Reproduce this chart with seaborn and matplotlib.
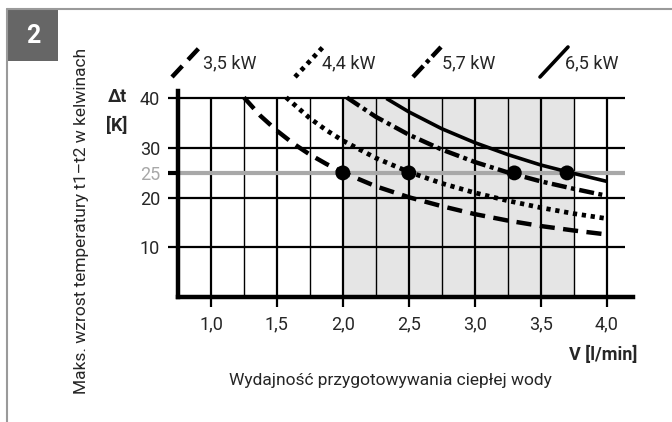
import matplotlib
matplotlib.use("Agg")
import matplotlib.pyplot as plt
from matplotlib.lines import Line2D
from matplotlib.patches import Rectangle
import seaborn as sns
import pandas as pd

sns.set_theme(style="white")
plt.rcParams['font.family'] = ['Roboto', 'DejaVu Sans']

# ---- data ----
v_35 = [1.25, 1.375, 1.5, 1.625, 1.75, 1.875, 2.0, 2.25, 2.5, 2.75, 3.0, 3.25, 3.5, 3.75, 4.0]
t_35 = [40.2, 36.5, 33.5, 30.9, 28.7, 26.8, 25.1, 22.3, 20.1, 18.3, 16.7, 15.4, 14.3, 13.4, 12.6]
v_44 = [1.57, 1.75, 1.875, 2.0, 2.25, 2.5, 2.75, 3.0, 3.25, 3.5, 3.75, 4.0]
t_44 = [40.2, 36.0, 33.6, 31.5, 28.0, 25.2, 22.9, 21.0, 19.4, 18.0, 16.8, 15.8]
v_57 = [2.03, 2.25, 2.5, 2.75, 3.0, 3.25, 3.5, 3.75, 4.0]
t_57 = [40.2, 36.3, 32.7, 29.7, 27.2, 25.1, 23.3, 21.8, 20.4]
v_65 = [2.33, 2.5, 2.75, 3.0, 3.25, 3.5, 3.75, 4.0]
t_65 = [40.0, 37.3, 33.9, 31.1, 28.7, 26.6, 24.9, 23.3]
series_labels = ["3,5 kW", "4,4 kW", "5,7 kW", "6,5 kW"]
dot_v = [2.0, 2.5, 3.3, 3.7]
dot_t = [25, 25, 25, 25]
x_ticks = [1.0, 1.5, 2.0, 2.5, 3.0, 3.5, 4.0]
x_ticklabels = ["1,0", "1,5", "2,0", "2,5", "3,0", "3,5", "4,0"]
y_ticks = [10, 20, 25, 30, 40]
y_ticklabels = ["10", "20", "25", "30", "40"]
shade_range = [2.0, 3.75]
ref_level = 25

W, H = 672, 422
fig = plt.figure(figsize=(W / 100, H / 100), dpi=100)
fig.patch.set_facecolor("white")

def fx(px):
    return px / W

def fy(py):
    return 1 - py / H

ax_l, ax_r, ax_t, ax_b = 178, 633, 91, 297
ax = fig.add_axes([fx(ax_l), fy(ax_b), (ax_r - ax_l) / W, (ax_b - ax_t) / H])
ax.set_facecolor("none")
ax.set_xlim(0.75, 4.2)
ax.set_ylim(0, 41.5)

# shaded region
ax.add_patch(Rectangle((shade_range[0], 0), shade_range[1] - shade_range[0], 40,
                       facecolor="#e5e5e5", edgecolor="none", zorder=0))

# grid
minor = [1.25, 1.75, 2.25, 2.75, 3.25, 3.75]
ax.vlines(x_ticks, 0, 40, color="black", lw=1.6, zorder=1)
ax.vlines(minor, 0, 40, color="black", lw=1.0, zorder=1)
ax.hlines([10, 20, 30, 40], 0.75, 4.14, color="black", lw=1.6, zorder=1)
ax.hlines([ref_level], 0.75, 4.14, color="#a8a8a8", lw=3.0, zorder=1.5)

# curves
df = pd.concat([
    pd.DataFrame({"V": v_35, "dt": t_35, "s": series_labels[0]}),
    pd.DataFrame({"V": v_44, "dt": t_44, "s": series_labels[1]}),
    pd.DataFrame({"V": v_57, "dt": t_57, "s": series_labels[2]}),
    pd.DataFrame({"V": v_65, "dt": t_65, "s": series_labels[3]}),
])
styles = {
    series_labels[0]: dict(lw=3.2, dashes=(3.4, 1.9)),
    series_labels[1]: dict(lw=3.4, dashes=(0.9, 1.0)),
    series_labels[2]: dict(lw=3.2, dashes=(3.4, 1.0, 0.9, 1.0)),
    series_labels[3]: dict(lw=2.6, dashes=()),
}
for lab in series_labels:
    sub = df[df["s"] == lab]
    st = styles[lab]
    sns.lineplot(data=sub, x="V", y="dt", ax=ax, color="black", lw=st["lw"],
                 sort=False, estimator=None, legend=False, zorder=3)
    l = ax.lines[-1]
    if st["dashes"]:
        l.set_dashes(st["dashes"])
    l.set_solid_capstyle("butt")
    l.set_dash_capstyle("butt")

sns.scatterplot(x=dot_v, y=dot_t, ax=ax, color="black", s=115, edgecolor="none",
                zorder=4, legend=False)

# axes styling
for side in ["top", "right"]:
    ax.spines[side].set_visible(False)
ax.spines["left"].set_linewidth(3.2)
ax.spines["bottom"].set_linewidth(3.2)
ax.spines["left"].set_color("black")
ax.spines["bottom"].set_color("black")
ax.set_xticks(x_ticks)
ax.set_xticklabels(x_ticklabels, fontsize=13)
ax.set_yticks(y_ticks)
ax.set_yticklabels(y_ticklabels, fontsize=13)
ax.tick_params(axis="both", direction="out", length=7, width=1.6, color="black",
               pad=6, bottom=True, left=True)
for t, lab in zip(ax.yaxis.get_major_ticks(), y_ticklabels):
    if lab == "25":
        t.tick1line.set_color("#a8a8a8")
        t.tick1line.set_markeredgewidth(3)
        t.label1.set_color("#a8a8a8")
ax.set_xlabel("")
ax.set_ylabel("")

# legend glyphs
leg_x = [172, 295, 413, 540]
leg_text_x = [203, 322, 442, 565]
for lab, x0, tx in zip(series_labels, leg_x, leg_text_x):
    st = styles[lab]
    ln = Line2D([fx(x0), fx(x0 + 28)], [fy(77), fy(47)], transform=fig.transFigure,
                color="black", lw=st["lw"])
    if st["dashes"]:
        ln.set_dashes(st["dashes"])
    ln.set_dash_capstyle("butt")
    fig.add_artist(ln)
    fig.text(fx(tx), fy(63), lab, fontsize=13, ha="left", va="center")

# axis labels
fig.text(fx(117), fy(97), "Δt", fontsize=13, fontweight="bold", ha="center", va="center")
fig.text(fx(117), fy(126), "[K]", fontsize=13, fontweight="bold", ha="center", va="center")
fig.text(fx(637), fy(355), "V [l/min]", fontsize=13, fontweight="bold", ha="right", va="center")
fig.text(fx(390), fy(380), "Wydajność przygotowywania ciepłej wody", fontsize=12.5,
         ha="center", va="center")
fig.text(fx(82), fy(221), "Maks. wzrost temperatury t1–t2 w kelwinach", fontsize=12.5,
         rotation=90, ha="center", va="center")

# frame and number box
fig.add_artist(Line2D([fx(7), fx(672)], [fy(9), fy(9)], transform=fig.transFigure,
                      color="#9a9a9a", lw=1.5))
fig.add_artist(Line2D([fx(7), fx(7)], [fy(9), fy(422)], transform=fig.transFigure,
                      color="#9a9a9a", lw=1.5))
fig.add_artist(Rectangle((fx(7), fy(61)), (58 - 7) / W, (61 - 9) / H,
                         transform=fig.transFigure, facecolor="#666666", edgecolor="none"))
fig.text(fx(33), fy(36), "2", fontsize=18, fontweight="bold", color="white",
         ha="center", va="center")

fig.savefig("out.png", dpi=100)
